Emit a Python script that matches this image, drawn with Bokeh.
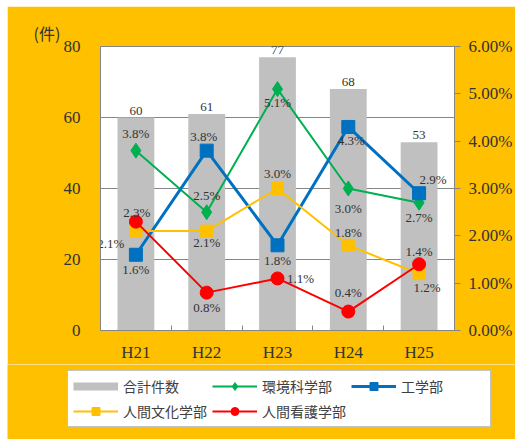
from bokeh.plotting import figure
from bokeh.layouts import column
from bokeh.models import (Range1d, LinearAxis, FixedTicker, PrintfTickFormatter,
                          Legend, LegendItem, Label, Title)
from bokeh.core.properties import value
from bokeh.embed import file_html
from bokeh.resources import INLINE

# ---- data ----
categories = ["H21", "H22", "H23", "H24", "H25"]
total_name = "合計件数"
total = [60, 61, 77, 68, 53]
kankyo_name = "環境科学部"
kankyo = [3.8, 2.5, 5.1, 3.0, 2.7]
kogaku_name = "工学部"
kogaku = [1.6, 3.8, 1.8, 4.3, 2.9]
bunka_name = "人間文化学部"
bunka = [2.1, 2.1, 3.0, 1.8, 1.2]
kango_name = "人間看護学部"
kango = [2.3, 0.8, 1.1, 0.4, 1.4]
left_ticks = [0, 20, 40, 60, 80]
right_ticks = [0, 1, 2, 3, 4, 5, 6]
unit_label = "(件)"

# ---- label placement (pixels) ----
kankyo_off = [(0, -17), (0, -17), (0, 13), (0, 20), (0, 15)]
kogaku_off = [(0, 15), (-3, -14), (0, 15), (3, 14), (14, -14)]
bunka_off = [(-25, 12), (0, 11), (0, -15), (0, -13), (8, 14)]
kango_off = [(1, -9), (0, 15), (23, 0), (0, -19), (0, -13)]

SERIF = "Liberation Serif"
CJK = "Noto Sans CJK JP"
GRAY = "#868686"
TXT = "#333333"
ORANGE = "#FFC000"
NAN = float("nan")

xs = list(range(len(categories)))

p = figure(width=508, height=358, output_backend="svg", toolbar_location=None,
           x_range=Range1d(-0.5, len(categories) - 0.5), y_range=Range1d(0, 80),
           min_border_left=93, min_border_right=61, min_border_top=40,
           min_border_bottom=33)
p.frame_align = False
p.extra_y_ranges = {"pct": Range1d(0, 6)}
p.border_fill_color = ORANGE
p.background_fill_color = "white"
p.outline_line_color = GRAY

# left axis
ya = p.yaxis[0]
ya.ticker = FixedTicker(ticks=left_ticks)
ya.major_tick_line_color = None
ya.minor_tick_line_color = None
ya.major_tick_out = 0
ya.axis_line_color = GRAY
ya.major_label_standoff = 20
ya.major_label_text_font = SERIF
ya.major_label_text_font_size = "17px"
ya.major_label_text_color = TXT

# right axis
ra = LinearAxis(y_range_name="pct", ticker=FixedTicker(ticks=right_ticks),
                formatter=PrintfTickFormatter(format="%.2f%%"))
ra.major_tick_out = 6
ra.major_tick_in = 0
ra.major_tick_line_color = GRAY
ra.minor_tick_line_color = None
ra.axis_line_color = GRAY
ra.major_label_standoff = 8
ra.major_label_text_font = SERIF
ra.major_label_text_font_size = "17px"
ra.major_label_text_color = TXT
p.add_layout(ra, "right")

# x axis
xa = p.xaxis[0]
xa.ticker = FixedTicker(ticks=xs, minor_ticks=[i + 0.5 for i in xs[:-1]])
xa.major_label_overrides = {i: c for i, c in enumerate(categories)}
xa.major_tick_line_color = None
xa.major_tick_out = 0
xa.major_tick_in = 0
xa.minor_tick_in = 5
xa.minor_tick_out = 0
xa.minor_tick_line_color = GRAY
xa.axis_line_color = GRAY
xa.major_label_standoff = 12
xa.major_label_text_font = SERIF
xa.major_label_text_font_size = "17px"
xa.major_label_text_color = TXT

p.xgrid.visible = False
p.ygrid.ticker = FixedTicker(ticks=left_ticks[1:-1])
p.ygrid.grid_line_color = GRAY

# bars
p.vbar(x=xs, top=total, width=0.52, fill_color="#C0C0C0", line_color=None)
p.text(x=xs, y=total, text=[str(t) for t in total], text_align="center",
       text_baseline="bottom", y_offset=-3, text_font=value(SERIF),
       text_font_size="13px", text_color=TXT)

series = [
    (kankyo_name, kankyo, "#00B050", 2, "diamond", 15, kankyo_off),
    (kogaku_name, kogaku, "#0070C0", 3, "square", 13, kogaku_off),
    (bunka_name, bunka, "#FFC000", 2, "square", 12, bunka_off),
    (kango_name, kango, "#FF0000", 2, "circle", 13, kango_off),
]
for name, vals, col, lw, mk, sz, off in series:
    p.line(xs, vals, y_range_name="pct", line_color=col, line_width=lw)
    p.scatter(xs, vals, y_range_name="pct", marker=mk, size=sz,
              fill_color=col, line_color=col)

for name, vals, col, lw, mk, sz, off in series:
    for i, v in enumerate(vals):
        p.add_layout(Label(x=xs[i], y=v, y_range_name="pct", text=f"{v:.1f}%",
                           x_offset=off[i][0], y_offset=-off[i][1],
                           text_align="center", text_baseline="middle",
                           text_font=SERIF, text_font_size="13px",
                           text_color=TXT))

ttl = Title(text=unit_label, align="left", offset=-67, standoff=3,
            text_font=CJK, text_font_size="16px", text_color=TXT,
            text_font_style="normal")
p.add_layout(ttl, "above")

# ---- legend strip ----
q = figure(width=508, height=75, output_backend="svg", toolbar_location=None,
           x_range=Range1d(0, 1), y_range=Range1d(0, 1),
           x_axis_type=None, y_axis_type=None,
           min_border_left=0, min_border_right=0, min_border_top=0,
           min_border_bottom=0)
q.frame_align = False
q.border_fill_color = ORANGE
q.background_fill_color = ORANGE
q.outline_line_color = None
q.xgrid.visible = False
q.ygrid.visible = False

items = []
g = q.line(x=[NAN], y=[NAN], line_color="#C0C0C0", line_width=8)
items.append(LegendItem(label=total_name, renderers=[g]))
for name, vals, col, lw, mk, sz, off in series:
    r1 = q.line(x=[NAN], y=[NAN], line_color=col, line_width=lw)
    r2 = q.scatter(x=[NAN], y=[NAN], marker=mk, size=sz, fill_color=col,
                   line_color=col)
    items.append(LegendItem(label=name, renderers=[r1, r2]))

legend = Legend(items=items, location=(60, 12), orientation="horizontal",
                ncols=3)
legend.glyph_width = 45
legend.glyph_height = 20
legend.label_standoff = 5
legend.label_width = 84
legend.spacing = 5
legend.padding = 5
legend.margin = 0
legend.label_text_font = CJK
legend.label_text_font_size = "14px"
legend.label_text_color = "#404040"
legend.border_line_color = GRAY
legend.background_fill_color = "white"
legend.background_fill_alpha = 1
q.add_layout(legend)

layout = column(p, q, spacing=0)
layout.margin = (6, 0, 0, 7)

open("out.html", "w").write(file_html(layout, INLINE))
